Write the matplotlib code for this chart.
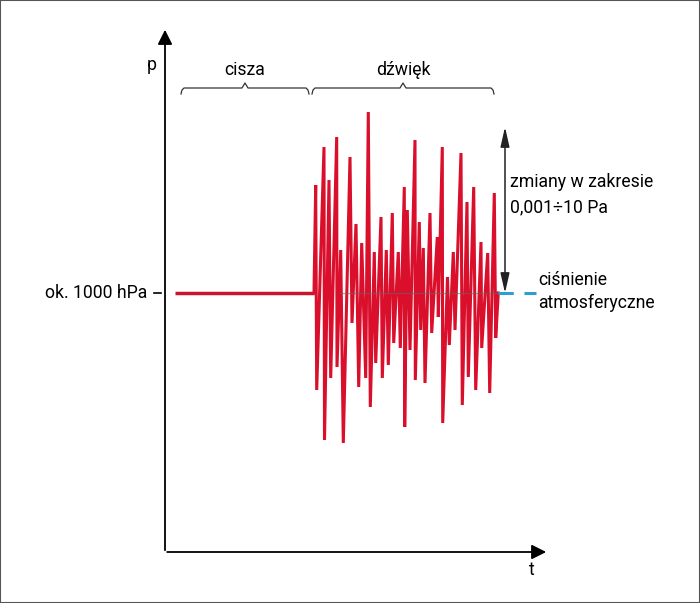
# Wykres ciśnienia: cisza i dźwięk na tle ciśnienia atmosferycznego
import numpy as np
from matplotlib import pyplot as plt
from matplotlib.patches import Rectangle

plt.rcParams['font.family'] = ['Roboto', 'DejaVu Sans']

# dane: czas (umowne jednostki) i odchylenie ciśnienia od atmosferycznego
t_cisza = [175, 314]
p_cisza = [0, 0]
t_dzwiek = [314, 315.7, 316.7, 324, 324.5, 329, 330.7, 336.7, 337, 340.7, 343.3,
            350, 352, 356, 358.7, 361.7, 365.7, 368.3, 370.3, 374.3, 375.7, 381,
            382.3, 386.3, 388.3, 392.3, 393.7, 398.3, 400.3, 404.3, 404.7, 407.3,
            410, 415, 415.3, 419.3, 420.7, 423.3, 425, 430, 431.7, 437.3, 438.3,
            442.3, 442.7, 447.5, 449.3, 453.3, 455, 461, 462.3, 467, 468.3, 473.7,
            475.7, 481, 481.7, 487.7, 489.7, 494.3, 495.7, 498.3]
p_dzwiek = [0, 108, -97, 146, -147, 113, -85, 156, -74, 43, -150,
            136, -30, 69, -94, 50, -85, 181, -114, 41, -70, 76,
            -85, 43, -72, 80, -50, 41, -55, 106, -134, 83,
            -57, 153, -87, 71, -37, 45, -90, 80, -40, 56, -24,
            146, -130, 16, -52, 41, -37, 140, -112, 91, -84, 106,
            -97, 51, -55, 40, -100, 100, -45, 0]

czerwony = '#da0f2c'
fs = 12.7

fig = plt.figure(figsize=(7, 6.03), dpi=100)
ax = fig.add_axes([0, 0, 1, 1])
ax.set_xlim(0, 700)
ax.set_ylim(293 - 603, 293)
ax.axis('off')

# osie ze strzałkami
ax.annotate('', xy=(165, 266), xytext=(165, -260),
            arrowprops=dict(arrowstyle='-|>', lw=1.3, color='black', mutation_scale=22))
ax.annotate('', xy=(549, -259), xytext=(164.4, -259),
            arrowprops=dict(arrowstyle='-|>', lw=1.3, color='black', mutation_scale=22))
ax.text(152, 228, 'p', fontsize=fs, ha='center', va='center')
ax.text(532, -277, 't', fontsize=fs, ha='center', va='center')

# poziom ciśnienia atmosferycznego
ax.plot([154, 161], [0, 0], color='black', lw=1.2)
ax.text(147, 0, 'ok. 1000 hPa', fontsize=fs, ha='right', va='center')

# sygnał
ax.plot(t_cisza, p_cisza, color='#c8142e', lw=2.5, solid_capstyle='butt')
ax.plot(t_dzwiek, p_dzwiek, color=czerwony, lw=2.2, solid_joinstyle='miter')
ax.plot([340, 498], [0, 0], color='#666666', lw=0.9, alpha=0.6)
ax.plot([498, 536], [0, 0], color='#2a9fd0', lw=2.2, dashes=(5, 3.5))

# klamry nad wykresem
def klamra(x0, x1, y):
    xm = (x0 + x1) / 2
    xs = [x0, x0 + 1, x0 + 3, xm - 3, xm, xm + 3, x1 - 3, x1 - 1, x1]
    ys = [y - 6, y - 2, y, y, y + 5, y, y, y - 2, y - 6]
    ax.plot(xs, ys, color='#333333', lw=0.9)

klamra(181, 309, 205)
klamra(312, 494, 205)
ax.text(245, 223, 'cisza', fontsize=fs, ha='center', va='center')
ax.text(403, 223, 'dźwięk', fontsize=fs, ha='center', va='center')

# zakres zmian
ax.annotate('', xy=(505, 166), xytext=(505, 0),
            arrowprops=dict(arrowstyle='<|-|>,head_length=0.75,head_width=0.17', lw=1.1,
                            color='#222222', mutation_scale=16, shrinkA=0, shrinkB=0))
ax.text(510, 111, 'zmiany w zakresie', fontsize=fs, ha='left', va='center')
ax.text(510, 86, '0,001\u00f710 Pa', fontsize=fs, ha='left', va='center')
ax.text(538, 13, 'ciśnienie', fontsize=fs, ha='left', va='center')
ax.text(538, -10, 'atmosferyczne', fontsize=fs, ha='left', va='center')

fig.patches.append(Rectangle((0, 0), 1, 1, transform=fig.transFigure, fill=False,
                             ec='#555555', lw=1.5))

plt.savefig('out.png', dpi=100)
